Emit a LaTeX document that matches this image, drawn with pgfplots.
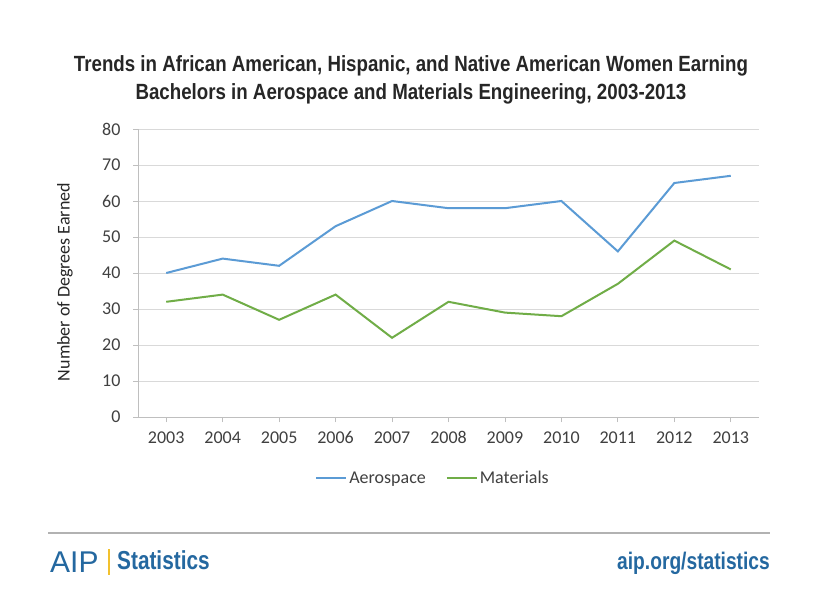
\documentclass[border=0pt]{standalone}
\usepackage{pgfplots}
\pgfplotsset{compat=1.18}
\usepackage{fontspec}
\setmainfont{Carlito}
\newfontfamily\titlefont[FakeStretch=0.85]{Liberation Sans Bold}
\newfontfamily\footfont[FakeStretch=0.8]{Liberation Sans Bold}
\newfontfamily\logofont{Liberation Sans}
\definecolor{aero}{HTML}{5B9BD5}
\definecolor{mat}{HTML}{70AD47}
\definecolor{titlecol}{HTML}{262626}
\definecolor{tickcol}{HTML}{404040}
\definecolor{gridcol}{HTML}{D9D9D9}
\definecolor{axiscol}{HTML}{BFBFBF}
\definecolor{aipblue}{HTML}{2468A0}
\definecolor{aipyellow}{HTML}{F2C12E}
\begin{document}
\begin{tikzpicture}[x=1pt,y=1pt]
\path[use as bounding box, fill=white] (0,0) rectangle (820,614);
\node[font=\titlefont\fontsize{22}{28}\selectfont, align=center, text=titlecol] at (411,534) {Trends in African American, Hispanic, and Native American Women Earning\\Bachelors in Aerospace and Materials Engineering, 2003-2013};
\begin{axis}[
  at={(138pt,197pt)}, anchor=south west,
  width=621pt, height=288pt, scale only axis,
  xmin=-0.5, xmax=10.5, ymin=0, ymax=80,
  axis x line*=bottom, axis y line*=left,
  axis line style={draw=axiscol, line width=0.8pt},
  xtick={0,...,10},
  xticklabels={2003,2004,2005,2006,2007,2008,2009,2010,2011,2012,2013},
  ytick={0,10,...,80},
  ymajorgrids, grid style={draw=gridcol, line width=0.8pt},
  tick style={draw=axiscol, line width=0.8pt},
  tick align=outside, major tick length=5pt,
  ticklabel style={font=\fontsize{18}{20}\selectfont, text=tickcol},
  /pgf/number format/assume math mode=true,
  xticklabel style={yshift=-6pt},
  yticklabel style={xshift=-9pt},
  legend columns=2,
  legend style={draw=none, fill=none, at={(0.475,-0.212)}, anchor=center,
    font=\fontsize{18}{20}\selectfont, text=tickcol,
    /tikz/every even column/.append style={column sep=18pt}},
  legend image code/.code={\draw[#1] (0pt,0pt) -- (30pt,0pt);},
]
\addplot[aero, line width=2pt] coordinates {(0,40)(1,44)(2,42)(3,53)(4,60)(5,58)(6,58)(7,60)(8,46)(9,65)(10,67)};
\addlegendentry{Aerospace}
\addplot[mat, line width=2pt] coordinates {(0,32)(1,34)(2,27)(3,34)(4,22)(5,32)(6,29)(7,28)(8,37)(9,49)(10,41)};
\addlegendentry{Materials}
\end{axis}
\node[rotate=90, font=\fontsize{18}{20}\selectfont, text=titlecol] at (65,332) {Number of Degrees Earned};
\draw[draw=black!30, line width=1.5pt] (48,81) -- (770,81);
\node[anchor=base west, font=\logofont\fontsize{30}{30}\selectfont, text=aipblue, inner sep=0pt] at (50,42) {AIP};
\fill[aipyellow] (108,39) rectangle (110,65);
\node[anchor=base west, font=\footfont\fontsize{26}{26}\selectfont, text=aipblue, inner sep=0pt] at (117,45) {Statistics};
\node[anchor=base east, font=\footfont\fontsize{24}{24}\selectfont, text=aipblue, inner sep=0pt] at (770,45) {aip.org/statistics};
\end{tikzpicture}
\end{document}
